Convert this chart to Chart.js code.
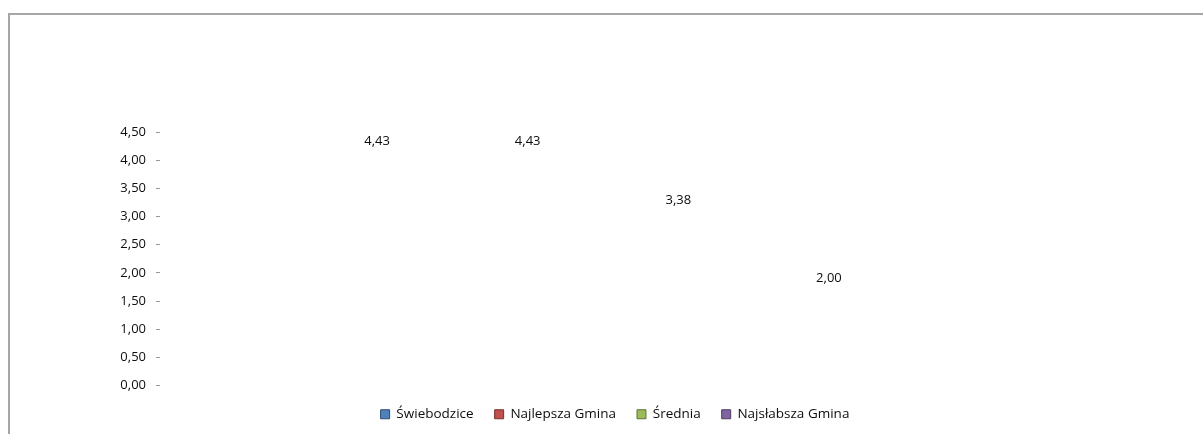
<!DOCTYPE html>
<html>
<head>
<meta charset="utf-8">
<script src="https://cdn.jsdelivr.net/npm/chart.js@4/dist/chart.umd.min.js"></script>
<style>
  html, body { margin: 0; padding: 0; background: #fff; overflow: hidden; }
  #wrap { position: relative; width: 1203px; height: 434px; }
  #frame { position: absolute; left: 8px; top: 13px; width: 1400px; height: 600px; border: 2px solid #a6a6a6; box-sizing: border-box; }
  canvas { position: absolute; left: 0; top: 0; }
</style>
</head>
<body>
<div id="wrap">
  <div id="frame"></div>
  <canvas id="c" width="1203" height="434"></canvas>
</div>
<script>
const categories = [''];
const seriesNames = ['Świebodzice', 'Najlepsza Gmina', 'Średnia', 'Najsłabsza Gmina'];
const seriesValues = [4.43, 4.43, 3.38, 2.00];
const seriesColors = ['#4F81BD', '#C0504D', '#9BBB59', '#8064A2'];
const seriesBorders = ['#2E4B6E', '#7A2F2D', '#5E7536', '#4E3D63'];
const yTicks = { min: 0, max: 4.5, step: 0.5 };

const FONT = '"Open Sans", sans-serif';
const TEXT = '#0d0d0d';
const fmt = v => v.toFixed(2).replace('.', ',');

const labelPlugin = {
  id: 'valueLabels',
  afterDatasetsDraw(chart) {
    const ctx = chart.ctx;
    ctx.save();
    ctx.font = '13px ' + FONT;
    ctx.fillStyle = TEXT;
    ctx.textAlign = 'center';
    ctx.textBaseline = 'middle';
    chart.data.datasets.forEach((ds, i) => {
      const meta = chart.getDatasetMeta(i);
      meta.data.forEach((bar, j) => {
        ctx.fillText(fmt(ds.data[j]), bar.x, bar.y + 5);
      });
    });
    ctx.restore();
  }
};

new Chart(document.getElementById('c'), {
  type: 'bar',
  data: {
    labels: categories,
    datasets: seriesNames.map((name, i) => ({
      label: name,
      data: [seriesValues[i]],
      backgroundColor: 'rgba(0,0,0,0)',
      borderWidth: 0
    }))
  },
  options: {
    responsive: false,
    animation: false,
    devicePixelRatio: 1,
    categoryPercentage: 0.68,
    barPercentage: 1,
    layout: { padding: { top: 132, right: 0, left: 27, bottom: 3 } },
    plugins: {
      tooltip: { enabled: false },
      legend: {
        position: 'bottom',
        labels: {
          font: { family: FONT, size: 13.5 },
          color: TEXT,
          boxWidth: 9,
          boxHeight: 9,
          padding: 21,
          generateLabels: (chart) => seriesNames.map((n, i) => ({
            text: n,
            fillStyle: seriesColors[i],
            strokeStyle: seriesBorders[i],
            lineWidth: 1,
            hidden: false,
            datasetIndex: i,
            fontColor: TEXT
          }))
        }
      }
    },
    scales: {
      x: {
        display: true,
        grid: { display: false },
        border: { display: false },
        ticks: { display: false },
        afterFit: (s) => { s.height = 1; }
      },
      y: {
        min: yTicks.min,
        max: yTicks.max,
        ticks: {
          stepSize: yTicks.step,
          font: { family: FONT, size: 13 },
          color: TEXT,
          padding: 10,
          callback: (v) => fmt(v)
        },
        grid: { drawOnChartArea: false, drawTicks: true, tickLength: 4, color: '#999' },
        border: { display: false },
        afterFit: (s) => { s.width = 133; }
      },
      yRight: {
        position: 'right',
        display: true,
        min: yTicks.min,
        max: yTicks.max,
        ticks: { display: false },
        grid: { display: false },
        border: { display: false },
        afterFit: (s) => { s.width = 157; }
      }
    }
  },
  plugins: [labelPlugin]
});
</script>
</body>
</html>
